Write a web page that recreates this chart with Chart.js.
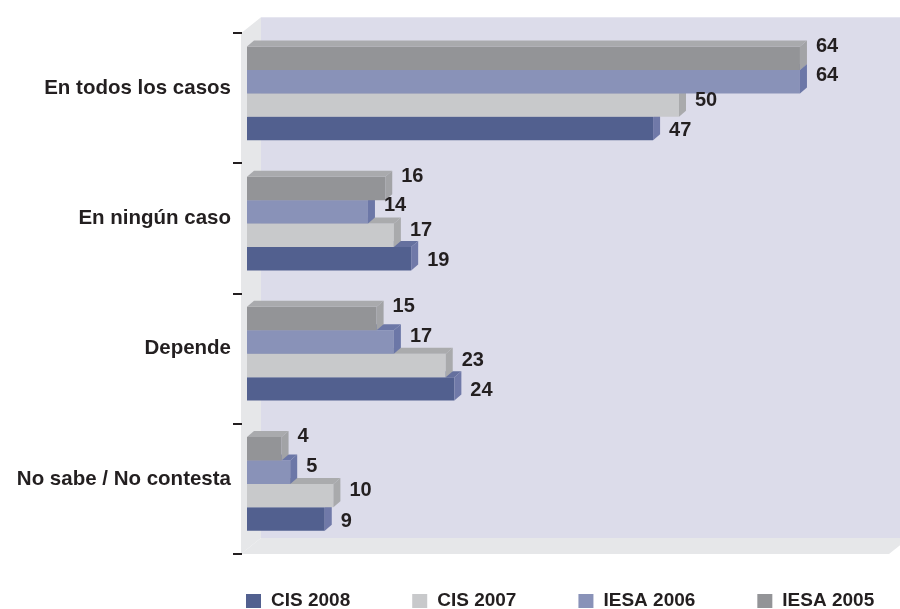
<!DOCTYPE html>
<html>
<head>
<meta charset="utf-8">
<script src="https://cdn.jsdelivr.net/npm/chart.js@4.4.0/dist/chart.umd.min.js"></script>
<style>
html, body { margin: 0; padding: 0; background: #fff; }
#wrap { width: 900px; height: 609px; position: relative; }
</style>
</head>
<body>
<div id="wrap"><canvas id="bar-chart"></canvas></div>
<script>
// data
var categories = ["En todos los casos", "En ningún caso", "Depende", "No sabe / No contesta"];
var iesa2005 = [64, 16, 15, 4];
var iesa2006 = [64, 14, 17, 5];
var cis2007  = [50, 17, 23, 10];
var cis2008  = [47, 19, 24, 9];
var axisMax  = 75;

var FONT = '"Liberation Sans", Arial, sans-serif';
var INK = '#231f20';

// 3d look: bar depth and wall depth
var barDepth  = { x: 7, y: -6 };
var wallDepth = { x: 20, y: -16 };
var labelDy   = [-12, -6, -5, 2];   // per series, top to bottom

var walls3d = {
	id: 'walls3d',
	beforeDraw: function(chart) {
		var ctx = chart.ctx, ca = chart.chartArea;
		var l = ca.left - 6, t = ca.top + 5, r = ca.right - 6, b = ca.bottom + 5;
		var dx = wallDepth.x, dy = wallDepth.y;
		ctx.save();
		// back wall
		ctx.fillStyle = '#dcdcea';
		ctx.fillRect(l + dx, t + dy, (r + dx) - (l + dx), b - t);
		// left wall
		ctx.fillStyle = '#e6e7e9';
		ctx.beginPath();
		ctx.moveTo(l, t); ctx.lineTo(l + dx, t + dy); ctx.lineTo(l + dx, b + dy); ctx.lineTo(l, b);
		ctx.closePath(); ctx.fill();
		// floor
		ctx.beginPath();
		ctx.moveTo(l, b); ctx.lineTo(r, b); ctx.lineTo(r + dx, b + dy); ctx.lineTo(l + dx, b + dy);
		ctx.closePath(); ctx.fill();
		// category tick marks on the front edge
		var ys = chart.scales.y;
		var half = (ys.getPixelForValue(1) - ys.getPixelForValue(0)) / 2;
		ctx.strokeStyle = INK;
		ctx.lineWidth = 2;
		for (var i = 0; i <= categories.length; i++) {
			var yy = Math.round(ys.getPixelForValue(i) - half + 5);
			ctx.beginPath();
			ctx.moveTo(l - 8, yy); ctx.lineTo(l + 1, yy);
			ctx.stroke();
		}
		ctx.restore();
	},
	afterDatasetDraw: function(chart, args) {
		var ctx = chart.ctx;
		var ds = chart.data.datasets[args.index];
		var dx = barDepth.x, dy = barDepth.y;
		ctx.save();
		args.meta.data.forEach(function(el) {
			var p = el.getProps(['x', 'y', 'base', 'height'], true);
			var x0 = p.base, x1 = p.x, yT = p.y - p.height / 2, yB = p.y + p.height / 2;
			ctx.fillStyle = ds.topColor;
			ctx.beginPath();
			ctx.moveTo(x0, yT); ctx.lineTo(x1, yT); ctx.lineTo(x1 + dx, yT + dy); ctx.lineTo(x0 + dx, yT + dy);
			ctx.closePath(); ctx.fill();
			ctx.fillStyle = ds.sideColor;
			ctx.beginPath();
			ctx.moveTo(x1, yT); ctx.lineTo(x1 + dx, yT + dy); ctx.lineTo(x1 + dx, yB + dy); ctx.lineTo(x1, yB);
			ctx.closePath(); ctx.fill();
		});
		ctx.restore();
	},
	afterDatasetsDraw: function(chart) {
		var ctx = chart.ctx;
		ctx.save();
		ctx.font = 'bold 20px ' + FONT;
		ctx.fillStyle = INK;
		ctx.textAlign = 'left';
		ctx.textBaseline = 'middle';
		chart.data.datasets.forEach(function(ds, i) {
			chart.getDatasetMeta(i).data.forEach(function(el, j) {
				ctx.fillText(ds.data[j], el.x + 16, el.y + labelDy[i]);
			});
		});
		ctx.restore();
	},
	afterDraw: function(chart) {
		// legend, left to right = bottom series first
		var ctx = chart.ctx;
		ctx.save();
		ctx.font = 'bold 19px ' + FONT;
		ctx.textBaseline = 'middle';
		var x = 246, y = 601;
		var list = chart.data.datasets.slice().reverse();
		list.forEach(function(ds) {
			ctx.fillStyle = ds.backgroundColor;
			ctx.fillRect(x, 594, 15, 14);
			ctx.fillStyle = INK;
			ctx.fillText(ds.label, x + 25, y);
			x += 25 + ctx.measureText(ds.label).width + 62;
		});
		ctx.restore();
	}
};

new Chart(document.getElementById("bar-chart"), {
	type: 'bar',
	data: {
		labels: categories,
		datasets: [
			{ label: "IESA 2005", data: iesa2005, backgroundColor: "#939497", topColor: "#a9aaad", sideColor: "#a2a3a6" },
			{ label: "IESA 2006", data: iesa2006, backgroundColor: "#8992b8", topColor: "#6c77a7", sideColor: "#6c77a7" },
			{ label: "CIS 2007",  data: cis2007,  backgroundColor: "#c8c9cb", topColor: "#aaabad", sideColor: "#a9aaac" },
			{ label: "CIS 2008",  data: cis2008,  backgroundColor: "#52608f", topColor: "#65709e", sideColor: "#7079a8" }
		]
	},
	options: {
		indexAxis: 'y',
		responsive: true,
		maintainAspectRatio: false,
		animation: false,
		barPercentage: 1,
		categoryPercentage: 0.72,
		layout: { padding: { left: 10, right: 5, top: 27, bottom: 60 } },
		plugins: {
			legend: { display: false },
			tooltip: { enabled: false }
		},
		scales: {
			x: { display: false, min: 0, max: axisMax },
			y: {
				grid: { display: false, drawTicks: false },
				border: { display: false },
				ticks: {
					color: INK,
					padding: 16,
					labelOffset: -5,
					font: { family: FONT, size: 20.5, weight: 'bold' }
				},
				afterFit: function(scale) { scale.width = 237; }
			}
		}
	},
	plugins: [walls3d]
});
</script>
</body>
</html>
